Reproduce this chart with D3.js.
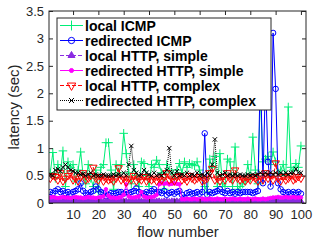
<!DOCTYPE html>
<html lang="en">
<head>
<meta charset="utf-8">
<title>latency per flow</title>
<script src="https://cdn.jsdelivr.net/npm/d3@7"></script>
<style>
  body { margin: 0; background: #fff; }
  svg { display: block; font-family: "Liberation Sans", Arial, sans-serif; }
  .tick text { fill: #262626; font-size: 13px; }
</style>
</head>
<body>
<script>
// flow numbers 1..100
var flows = d3.range(1, 101);

var localICMP = [0.55,0.92,0.45,0.7,0.55,0.95,0.3,0.75,0.65,0.7,
  0.4,0.6,0.93,0.5,0.35,0.7,0.45,0.3,0.6,0.2,
  0.65,0.7,1.1,1.1,0.6,0.25,0.7,0.55,0.7,1.27,
  0.9,0.55,0.35,0.7,0.5,0.3,0.75,0.72,0.5,0.3,
  0.7,0.65,0.78,0.7,0.55,0.25,0.7,0.6,0.55,0.45,
  0.6,0.72,0.55,0.75,0.65,0.72,0.7,0.68,0.75,0.6,
  0.45,0.3,0.2,0.8,0.65,0.85,0.3,0.9,0.35,0.3,
  0.8,0.75,0.3,1.02,0.25,0.3,0.35,0.4,0.7,0.45,
  1.2,0.6,0.35,2.0,0.75,0.8,0.85,0.7,0.93,0.75,
  0.55,0.6,0.7,0.5,1.75,0.65,0.6,0.72,0.65,1.04];

var redirICMP = [0.2,0.18,0.22,0.25,0.2,0.22,0.18,0.2,0.17,0.2,
  0.22,0.25,0.36,0.22,0.18,0.15,0.2,0.22,0.3,0.25,
  0.2,0.18,0.12,0.15,0.18,0.17,0.18,0.2,0.2,0.17,
  0.2,0.18,0.2,0.22,0.27,0.2,0.18,0.17,0.2,0.18,
  0.22,0.25,0.2,0.2,0.18,0.22,0.15,0.18,0.2,0.17,
  0.2,0.22,0.15,0.1,0.18,0.2,0.17,0.18,0.2,0.17,
  0.2,1.27,0.15,0.2,0.18,0.2,0.22,0.25,0.2,0.18,
  0.22,0.18,0.2,0.17,0.2,0.18,0.2,0.2,0.2,0.2,
  0.18,0.2,0.22,2.5,0.36,2.3,0.75,0.3,3.1,2.08,
  0.36,0.25,0.2,0.18,0.2,0.17,0.2,0.18,0.2,0.17];

var localSimple = [0.03,0.02,0.03,0.03,0.02,0.03,0.03,0.02,0.03,0.03,
  0.03,0.02,0.03,0.03,0.02,0.03,0.03,0.02,0.03,0.03,
  0.03,0.02,0.03,0.03,0.02,0.03,0.03,0.02,0.03,0.03,
  0.03,0.02,0.03,0.03,0.02,0.03,0.03,0.02,0.03,0.03,
  0.03,0.02,0.03,0.03,0.02,0.03,0.03,0.02,0.03,0.03,
  0.03,0.02,0.03,0.03,0.02,0.03,0.03,0.02,0.03,0.03,
  0.03,0.02,0.03,0.03,0.02,0.03,0.03,0.02,0.03,0.03,
  0.03,0.02,0.03,0.03,0.02,0.03,0.03,0.02,0.03,0.03,
  0.03,0.02,0.03,0.03,0.02,0.03,0.03,0.02,0.03,0.03,
  0.03,0.02,0.03,0.03,0.02,0.03,0.03,0.02,0.03,0.03];

var redirSimple = [0.1,0.11,0.1,0.09,0.1,0.11,0.1,0.1,0.09,0.1,
  0.11,0.1,0.1,0.09,0.1,0.11,0.1,0.1,0.09,0.1,
  0.11,0.12,0.25,0.13,0.1,0.1,0.09,0.1,0.11,0.15,
  0.34,0.12,0.1,0.1,0.11,0.12,0.2,0.12,0.1,0.1,
  0.11,0.12,0.15,0.34,0.36,0.35,0.36,0.34,0.35,0.36,
  0.35,0.34,0.07,0.07,0.08,0.07,0.07,0.08,0.07,0.07,
  0.08,0.07,0.07,0.08,0.07,0.07,0.08,0.07,0.07,0.08,
  0.07,0.07,0.08,0.07,0.07,0.08,0.07,0.07,0.08,0.07,
  0.07,0.08,0.07,0.07,0.08,0.07,0.08,0.09,0.1,0.1,
  0.11,0.1,0.1,0.11,0.1,0.1,0.11,0.1,0.1,0.1];

var localComplex = [0.45,0.5,0.48,0.42,0.55,0.4,0.45,0.5,0.55,0.42,
  0.45,0.4,0.48,0.55,0.42,0.45,0.5,0.65,0.45,0.42,
  0.48,0.4,0.45,0.42,0.44,0.4,0.45,0.64,0.42,0.45,
  0.38,0.45,0.42,0.5,0.4,0.45,0.42,0.48,0.4,0.45,
  0.42,0.45,0.4,0.45,0.42,0.48,0.55,0.42,0.45,0.4,
  0.48,0.5,0.42,0.45,0.4,0.5,0.45,0.42,0.45,0.48,
  0.4,0.42,0.45,0.55,0.63,0.42,0.45,0.4,0.48,0.42,
  0.55,0.45,0.42,0.6,0.45,0.42,0.45,0.4,0.45,0.42,
  0.48,0.45,0.4,0.5,0.42,0.55,0.45,0.5,0.42,0.73,
  0.45,0.4,0.48,0.42,0.45,0.5,0.42,0.45,0.48,0.45];

var redirComplex = [0.52,0.5,0.6,0.62,0.58,0.65,0.7,0.65,0.6,0.58,
  0.55,0.55,0.52,0.53,0.5,0.52,0.55,0.5,0.52,0.5,
  0.5,0.52,0.5,0.5,0.5,0.52,0.5,0.52,0.5,0.55,
  0.5,0.7,1.04,0.6,0.55,0.5,0.52,0.6,0.55,0.52,
  0.5,0.55,0.5,0.52,0.5,0.55,0.6,1.0,0.55,0.5,
  0.58,0.5,0.52,0.5,0.55,0.5,0.52,0.5,0.55,0.5,
  0.52,0.5,0.55,0.5,0.7,1.16,0.55,0.5,0.52,0.55,
  0.5,0.52,0.5,0.52,0.5,0.52,0.5,0.5,0.52,0.5,
  0.52,0.5,0.52,0.55,0.52,0.55,0.52,0.55,0.52,0.55,
  0.52,0.55,0.52,0.55,0.52,0.55,0.55,0.62,0.55,0.55];

var seriesNames = ["local ICMP", "redirected ICMP", "local HTTP, simple",
  "redirected HTTP, simple", "local HTTP, complex", "redirected HTTP, complex"];
var xTicks = [10, 20, 30, 40, 50, 60, 70, 80, 90, 100];
var yTicks = [0, 0.5, 1, 1.5, 2, 2.5, 3, 3.5];

var W = 315, H = 244;
var plotL = 49, plotR = 306, plotT = 11, plotB = 203;

var styles = [
  {color: "#00ee77", dash: null,  sym: d3.symbolPlus,     size: 26, fill: false, rot: 0},
  {color: "#0000ff", dash: null,  sym: d3.symbolCircle,   size: 24, fill: false, rot: 0},
  {color: "#8a2be2", dash: "4,2", sym: d3.symbolTriangle, size: 16, fill: true,  rot: 0},
  {color: "#ff00ff", dash: null,  sym: d3.symbolCircle,   size: 10, fill: true,  rot: 0},
  {color: "#ff0000", dash: "4,2", sym: d3.symbolTriangle, size: 24, fill: false, rot: 180},
  {color: "#000000", dash: "1,1", sym: d3.symbolTimes,    size: 14, fill: false, rot: 0}
];
var data = [localICMP, redirICMP, localSimple, redirSimple, localComplex, redirComplex];

var x = d3.scaleLinear().domain([0.5, 102]).range([plotL, plotR]);
var y = d3.scaleLinear().domain([0, 3.5]).range([plotB, plotT]);

var svg = d3.select("body").append("svg")
    .attr("width", W)
    .attr("height", H);

svg.append("defs").append("clipPath").attr("id", "plotclip")
  .append("rect")
    .attr("x", plotL).attr("y", plotT)
    .attr("width", plotR - plotL).attr("height", plotB - plotT);

var plot = svg.append("g").attr("clip-path", "url(#plotclip)");

var line = d3.line()
    .x(function(d, i) { return x(flows[i]); })
    .y(function(d) { return y(d); });

data.forEach(function(vals, k) {
  var s = styles[k];
  var g = plot.append("g");
  g.append("path")
      .attr("d", line(vals))
      .attr("fill", "none")
      .attr("stroke", s.color)
      .attr("stroke-width", 1)
      .attr("stroke-dasharray", s.dash);
  g.selectAll("path.m")
      .data(vals)
    .enter().append("path")
      .attr("class", "m")
      .attr("transform", function(d, i) {
        return "translate(" + x(flows[i]) + "," + y(d) + ") rotate(" + s.rot + ")";
      })
      .attr("d", d3.symbol().type(s.sym).size(s.size))
      .attr("fill", s.fill ? s.color : "none")
      .attr("stroke", s.color)
      .attr("stroke-width", 1);
});

// axes, ticks pointing inward
svg.append("g")
    .attr("transform", "translate(0," + plotB + ")")
    .call(d3.axisBottom(x).tickValues(xTicks).tickSizeInner(-4).tickSizeOuter(0).tickPadding(7))
    .call(function(g) { g.select(".domain").remove(); });
svg.append("g")
    .attr("transform", "translate(0," + plotT + ")")
    .call(d3.axisTop(x).tickValues(xTicks).tickSizeInner(-4).tickSizeOuter(0).tickFormat(""))
    .call(function(g) { g.select(".domain").remove(); });
svg.append("g")
    .attr("transform", "translate(" + plotL + ",0)")
    .call(d3.axisLeft(y).tickValues(yTicks).tickSizeInner(-4).tickSizeOuter(0).tickPadding(5)
      .tickFormat(function(d) { return String(d); }))
    .call(function(g) { g.select(".domain").remove(); });
svg.append("g")
    .attr("transform", "translate(" + plotR + ",0)")
    .call(d3.axisRight(y).tickValues(yTicks).tickSizeInner(-4).tickSizeOuter(0).tickFormat(""))
    .call(function(g) { g.select(".domain").remove(); });
svg.selectAll(".tick line").attr("stroke", "#262626");

svg.append("rect")
    .attr("x", plotL).attr("y", plotT)
    .attr("width", plotR - plotL).attr("height", plotB - plotT)
    .attr("fill", "none").attr("stroke", "#262626").attr("stroke-width", 1);

svg.append("text")
    .attr("x", 178)
    .attr("y", 237)
    .attr("text-anchor", "middle")
    .attr("font-size", 15)
    .attr("fill", "#262626")
    .text("flow number");

svg.append("text")
    .attr("transform", "translate(19," + ((plotT + plotB) / 2) + ") rotate(-90)")
    .attr("text-anchor", "middle")
    .attr("font-size", 15)
    .attr("fill", "#262626")
    .text("latency (sec)");

// legend
var lg = svg.append("g");
lg.append("rect")
    .attr("x", 57).attr("y", 18)
    .attr("width", 214).attr("height", 92)
    .attr("fill", "#fff").attr("stroke", "#262626").attr("stroke-width", 1);

seriesNames.forEach(function(name, k) {
  var s = styles[k];
  var cy = 25.5 + k * 15;
  lg.append("line")
      .attr("x1", 60).attr("x2", 83)
      .attr("y1", cy).attr("y2", cy)
      .attr("stroke", s.color)
      .attr("stroke-width", 1)
      .attr("stroke-dasharray", s.dash);
  lg.append("path")
      .attr("transform", "translate(71.5," + cy + ") rotate(" + s.rot + ")")
      .attr("d", d3.symbol().type(s.sym).size(s.size * 1.3))
      .attr("fill", s.fill ? s.color : "none")
      .attr("stroke", s.color)
      .attr("stroke-width", 1);
  lg.append("text")
      .attr("x", 85)
      .attr("y", cy + 5)
      .attr("font-size", 14)
      .attr("font-weight", "bold")
      .attr("fill", "#000")
      .text(name);
});
</script>
</body>
</html>
